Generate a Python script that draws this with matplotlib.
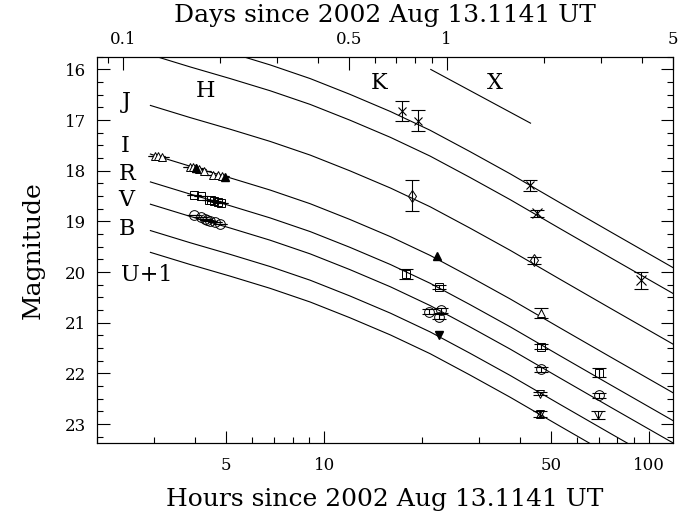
import numpy as np
import matplotlib
matplotlib.use('Agg')
import matplotlib.pyplot as plt

plt.rcParams['font.family'] = 'DejaVu Serif'

# model curves (hours, magnitude)
hours_grid = [2.92, 3.87, 5.14, 6.82, 9.06, 12.0, 16.0, 21.2, 28.1, 37.4, 53.2, 75.9, 118.5]
mag_K = [15.20, 15.44, 15.67, 15.91, 16.18, 16.49, 16.83, 17.20, 17.62, 18.06, 18.63, 19.20, 19.91]
mag_H = [15.71, 15.95, 16.18, 16.42, 16.69, 17.00, 17.34, 17.71, 18.13, 18.57, 19.14, 19.71, 20.42]
mag_J = [16.71, 16.95, 17.18, 17.42, 17.69, 18.00, 18.34, 18.71, 19.13, 19.57, 20.14, 20.71, 21.42]
mag_I = [17.67, 17.91, 18.14, 18.38, 18.65, 18.96, 19.30, 19.67, 20.09, 20.53, 21.10, 21.67, 22.38]
mag_R = [18.22, 18.46, 18.69, 18.93, 19.20, 19.51, 19.85, 20.22, 20.64, 21.08, 21.65, 22.22, 22.93]
mag_V = [18.66, 18.90, 19.13, 19.37, 19.64, 19.95, 20.29, 20.66, 21.08, 21.52, 22.09, 22.66, 23.37]
mag_B = [19.18, 19.42, 19.65, 19.89, 20.16, 20.47, 20.81, 21.18, 21.60, 22.04, 22.61, 23.18, 23.89]
mag_U = [19.61, 19.85, 20.08, 20.32, 20.59, 20.90, 21.24, 21.61, 22.03, 22.47, 23.04, 23.61, 24.32]

# X-ray segment
x_hours = [21.3, 43.2]
x_mag = [16.00, 17.06]

# photometry
I_t = [3.02, 3.08, 3.17, 3.87, 3.95, 4.04, 4.13, 4.27, 4.56, 4.72, 4.86, 46.5]
I_m = [17.70, 17.71, 17.73, 17.92, 17.93, 17.95, 17.96, 18.00, 18.08, 18.09, 18.10, 20.80]
I_e = [0, 0, 0, 0, 0, 0, 0, 0, 0, 0, 0, 0.10]
I_fill_t = [4.04, 4.96, 22.3]
I_fill_m = [17.95, 18.12, 19.69]

R_t = [3.99, 4.19, 4.42, 4.49, 4.58, 4.71, 4.82, 17.9, 22.5, 46.5, 70.3]
R_m = [18.48, 18.50, 18.57, 18.58, 18.60, 18.61, 18.63, 20.03, 20.29, 21.47, 21.99]
R_e = [0, 0, 0, 0, 0, 0, 0, 0.10, 0.04, 0.05, 0.09]

V_t = [3.97, 4.18, 4.29, 4.37, 4.47, 4.63, 4.78, 21.0, 22.9, 22.6, 46.5, 70.3]
V_m = [18.88, 18.92, 18.96, 18.97, 18.99, 19.01, 19.05, 20.78, 20.75, 20.88, 21.92, 22.43]
V_e = [0, 0, 0, 0, 0, 0, 0, 0.05, 0.05, 0.05, 0.05, 0.05]

B_t = [46.3, 69.5]
B_m = [22.40, 22.82]
B_e = [0.03, 0.07]
B_fill_t = [22.5]
B_fill_m = [21.25]

U_t = [46.3]
U_m = [22.80]
U_e = [0.05]

J_t = [18.7, 44.4]
J_m = [18.49, 19.77]
J_e = [0.30, 0.07]

H_t = [45.2, 94.5]
H_m = [18.84, 20.16]
H_e = [0.07, 0.17]

K_t = [17.4, 19.5, 43.1]
K_m = [16.82, 17.01, 18.29]
K_e = [0.20, 0.20, 0.10]

fig = plt.figure(figsize=(6.93, 5.21), dpi=100)
ax = fig.add_axes([0.140, 0.150, 0.831, 0.741])

for m in [mag_K, mag_H, mag_J, mag_I, mag_R, mag_V, mag_B, mag_U]:
    ax.plot(hours_grid, m, color='black', lw=0.8)
ax.plot(x_hours, x_mag, color='black', lw=0.8)

eb = dict(fmt='none', ecolor='black', elinewidth=0.8, capsize=5, capthick=0.8)

ax.errorbar(I_t, I_m, yerr=I_e, **eb)
ax.plot(I_t, I_m, '^', mfc='white', mec='black', ms=6, mew=0.7, ls='none')
ax.plot(I_fill_t, I_fill_m, '^', mfc='black', mec='black', ms=6, ls='none')

ax.errorbar(R_t, R_m, yerr=R_e, **eb)
ax.plot(R_t, R_m, 's', mfc='none', mec='black', ms=5.5, mew=0.7, ls='none')

ax.errorbar(V_t, V_m, yerr=V_e, **eb)
ax.plot(V_t, V_m, 'o', mfc='none', mec='black', ms=7, mew=0.7, ls='none')

ax.errorbar(B_t, B_m, yerr=B_e, **eb)
ax.plot(B_t, B_m, 'v', mfc='none', mec='black', ms=6, mew=0.7, ls='none')
ax.plot(B_fill_t, B_fill_m, 'v', mfc='black', mec='black', ms=6, ls='none')

ax.errorbar(U_t, U_m, yerr=U_e, **eb)
ax.plot(U_t, U_m, '^', mfc='none', mec='black', ms=6, mew=0.7, ls='none')
ax.plot(U_t, U_m, 'v', mfc='none', mec='black', ms=6, mew=0.7, ls='none')

ax.errorbar(J_t, J_m, yerr=J_e, **eb)
ax.plot(J_t, J_m, 'd', mfc='none', mec='black', ms=6, mew=0.7, ls='none')

ax.errorbar(H_t, H_m, yerr=H_e, **eb)
ax.plot(H_t, H_m, 'x', color='black', ms=7, mew=0.8, ls='none')

ax.errorbar(K_t, K_m, yerr=K_e, **eb)
ax.plot(K_t, K_m, 'x', color='black', ms=6, mew=0.8, ls='none')

# band labels
labels = ['J', 'H', 'I', 'R', 'V', 'B', 'U+1', 'K', 'X']
lab_t = [2.47, 4.31, 2.45, 2.48, 2.47, 2.47, 2.85, 14.8, 33.6]
lab_m = [16.65, 16.43, 17.52, 18.06, 18.58, 19.15, 20.06, 16.27, 16.27]
for s, t, m in zip(labels, lab_t, lab_m):
    ax.text(t, m, s, fontsize=16, ha='center', va='center')

ax.set_xscale('log')
ax.set_xlim(2.0, 118.5)
ax.set_ylim(23.37, 15.80)
ax.set_xticks([5, 10, 50, 100], labels=['5', '10', '50', '100'])
ax.set_xticks([2, 3, 4, 6, 7, 8, 9, 20, 30, 40, 60, 70, 80, 90], minor=True)
ax.set_xticklabels([], minor=True)
ax.set_yticks(np.arange(16, 24, 1))
ax.set_yticks(np.arange(15.75, 23.5, 0.25), minor=True)
ax.tick_params(which='both', direction='in', right=True, labelsize=12, width=0.8)
ax.tick_params(which='major', length=9, pad=8)
ax.tick_params(which='minor', length=4.5)
ax.tick_params(axis='x', which='major', pad=10)
ax.set_xlabel('Hours since 2002 Aug 13.1141 UT', fontsize=18, labelpad=10)
ax.set_ylabel('Magnitude', fontsize=18, labelpad=14)

ax2 = ax.twiny()
ax2.set_xscale('log')
ax2.set_xlim(2.0 / 24, 118.5 / 24)
ax2.set_xticks([0.1, 0.5, 1, 5], labels=['0.1', '0.5', '1', '5'])
ax2.set_xticks([0.09, 0.2, 0.3, 0.4, 0.6, 0.7, 0.8, 0.9, 2, 3, 4], minor=True)
ax2.set_xticklabels([], minor=True)
ax2.tick_params(which='both', direction='in', labelsize=12, width=0.8)
ax2.tick_params(which='major', length=9, pad=6)
ax2.tick_params(which='minor', length=4.5)
ax2.set_xlabel('Days since 2002 Aug 13.1141 UT', fontsize=18, labelpad=7)

for a in (ax, ax2):
    for sp in a.spines.values():
        sp.set_linewidth(0.8)

fig.savefig('out.png', dpi=100)
